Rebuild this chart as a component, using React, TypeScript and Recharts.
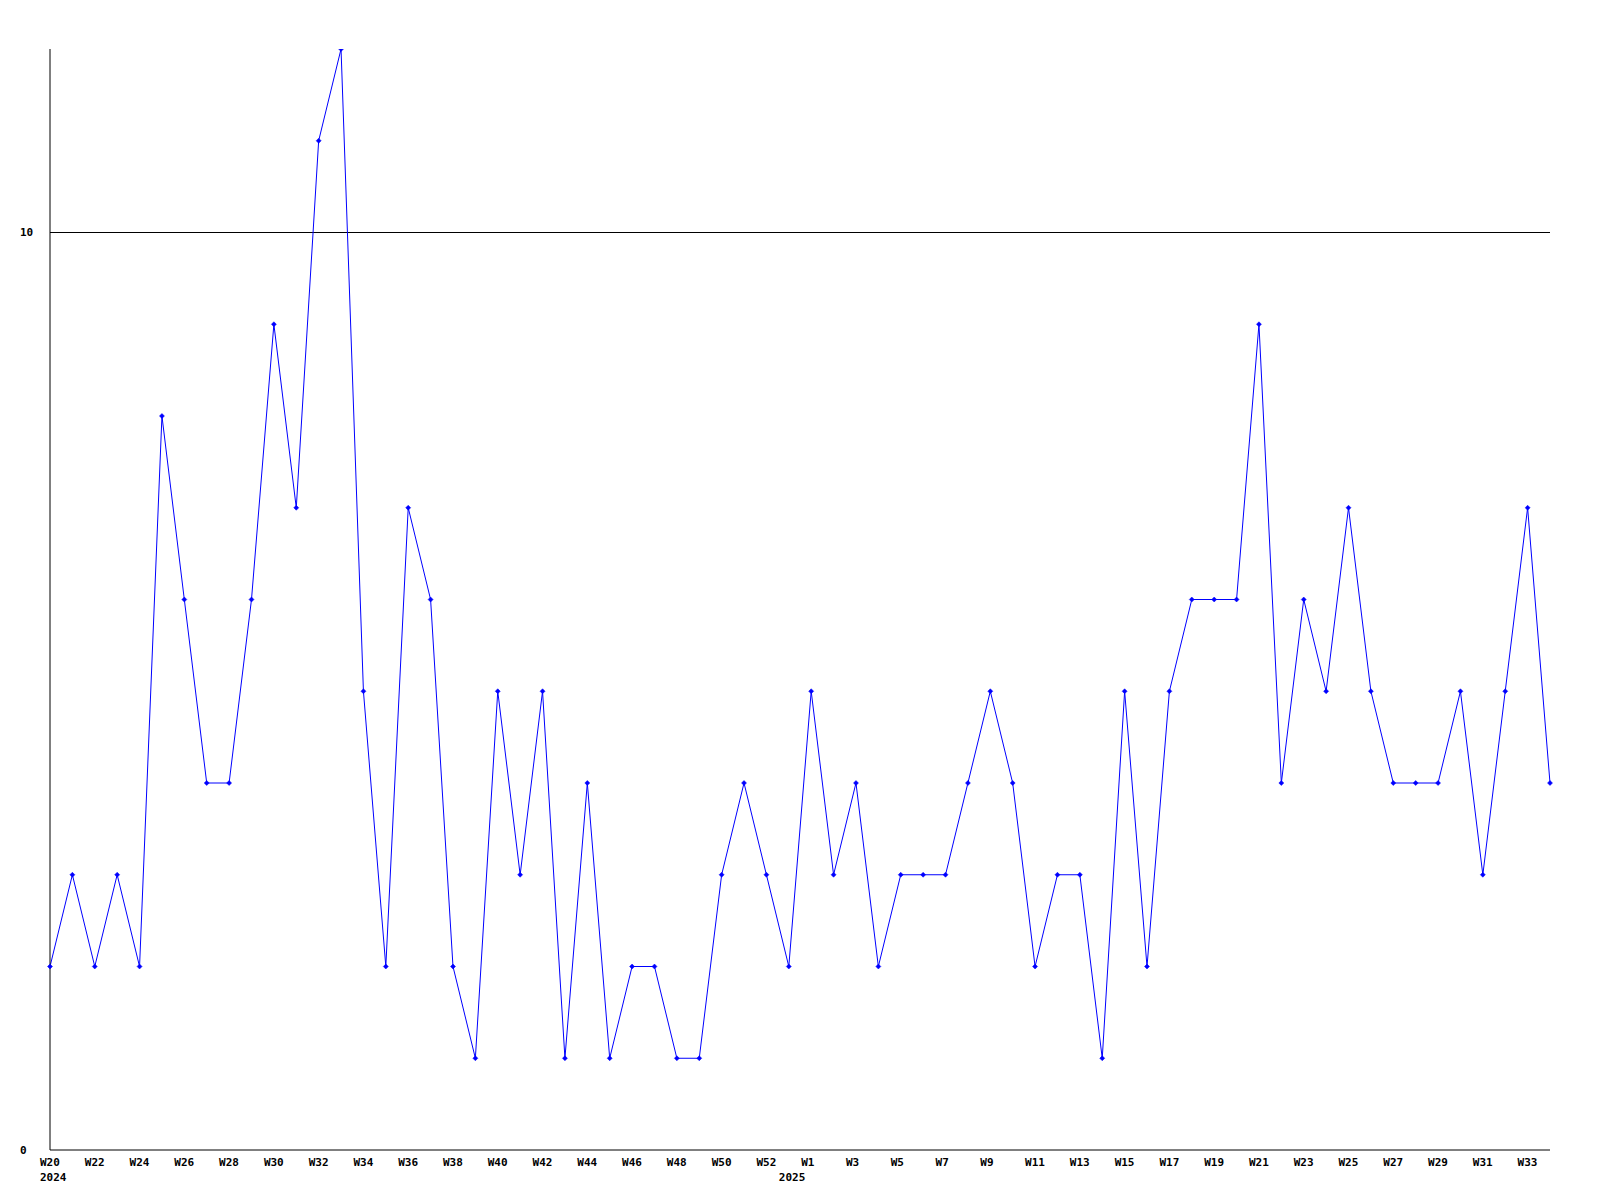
import React from "react";
import { LineChart, Line, XAxis, YAxis, ReferenceLine } from "recharts";

const weeks2024: string[] = [
  "W20","W21","W22","W23","W24","W25","W26","W27","W28","W29","W30","W31","W32","W33","W34","W35","W36",
  "W37","W38","W39","W40","W41","W42","W43","W44","W45","W46","W47","W48","W49","W50","W51","W52","W53",
];
const values2024: number[] = [
  2, 3, 2, 3, 2, 8, 6, 4, 4, 6, 9, 7, 11, 12, 5, 2, 7,
  6, 2, 1, 5, 3, 5, 1, 4, 1, 2, 2, 1, 1, 3, 4, 3, 2,
];
const weeks2025: string[] = [
  "W1","W2","W3","W4","W5","W6","W7","W8","W9","W10","W11","W12","W13","W14","W15","W16","W17",
  "W18","W19","W20","W21","W22","W23","W24","W25","W26","W27","W28","W29","W30","W31","W32","W33","W34",
];
const values2025: number[] = [
  5, 3, 4, 2, 3, 3, 3, 4, 5, 4, 2, 3, 3, 1, 5, 2, 5,
  6, 6, 6, 9, 4, 6, 5, 7, 5, 4, 4, 4, 5, 3, 5, 7, 4,
];
const yearLabels: { index: number; label: string }[] = [
  { index: 0, label: "2024" },
  { index: 33, label: "2025" },
];
const yTicks: number[] = [0, 10];

const data = [
  ...weeks2024.map((w, i) => ({ week: w, value: values2024[i] })),
  ...weeks2025.map((w, i) => ({ week: w, value: values2025[i] })),
];

const FONT = "'DejaVu Sans Mono', monospace";

const XTick = (props: any) => {
  const { x, y, payload } = props;
  const idx = payload.index;
  const year = yearLabels.find((yl) => yl.index === idx);
  return (
    <g>
      {idx % 2 === 0 && (
        <text x={x - 10} y={y + 12} textAnchor="start" dominantBaseline="central"
          fontFamily={FONT} fontWeight="bold" fontSize={11} fill="#000">
          {payload.value}
        </text>
      )}
      {year && (
        <text x={x - 10} y={y + 27} textAnchor="start" dominantBaseline="central"
          fontFamily={FONT} fontWeight="bold" fontSize={11} fill="#000">
          {year.label}
        </text>
      )}
    </g>
  );
};

const YTick = (props: any) => {
  const { y, payload } = props;
  return (
    <text x={20} y={y} textAnchor="start" dominantBaseline="central"
      fontFamily={FONT} fontWeight="bold" fontSize={11} fill="#000">
      {payload.value}
    </text>
  );
};

const Dot = (props: any) => {
  const { cx, cy } = props;
  if (cx == null || cy == null) return null;
  return (
    <path
      d={`M${cx},${cy - 2.5} L${cx + 2.5},${cy} L${cx},${cy + 2.5} L${cx - 2.5},${cy} Z`}
      fill="#0000ff"
      stroke="#0000ff"
      strokeWidth={0.5}
    />
  );
};

export default function App() {
  return (
    <div style={{ position: "absolute", left: 0, top: 0, background: "#fff" }}>
      <LineChart width={1600} height={1200} data={data}
        margin={{ top: 49, right: 50, bottom: 0, left: 0 }}>
        <XAxis dataKey="week" type="category" interval={0} height={50}
          axisLine={{ stroke: "#000", strokeWidth: 1 }} tickLine={false}
          tickSize={0} tickMargin={0} tick={<XTick />} />
        <YAxis type="number" domain={[0, 12]} ticks={yTicks} width={50}
          axisLine={{ stroke: "#000", strokeWidth: 1 }} tickLine={false}
          tickSize={0} tickMargin={0} tick={<YTick />} allowDataOverflow />
        <ReferenceLine y={10} stroke="#000" strokeWidth={1} />
        <Line type="linear" dataKey="value" stroke="#0000ff" strokeWidth={1}
          dot={<Dot />} activeDot={false} isAnimationActive={false} />
      </LineChart>
    </div>
  );
}
